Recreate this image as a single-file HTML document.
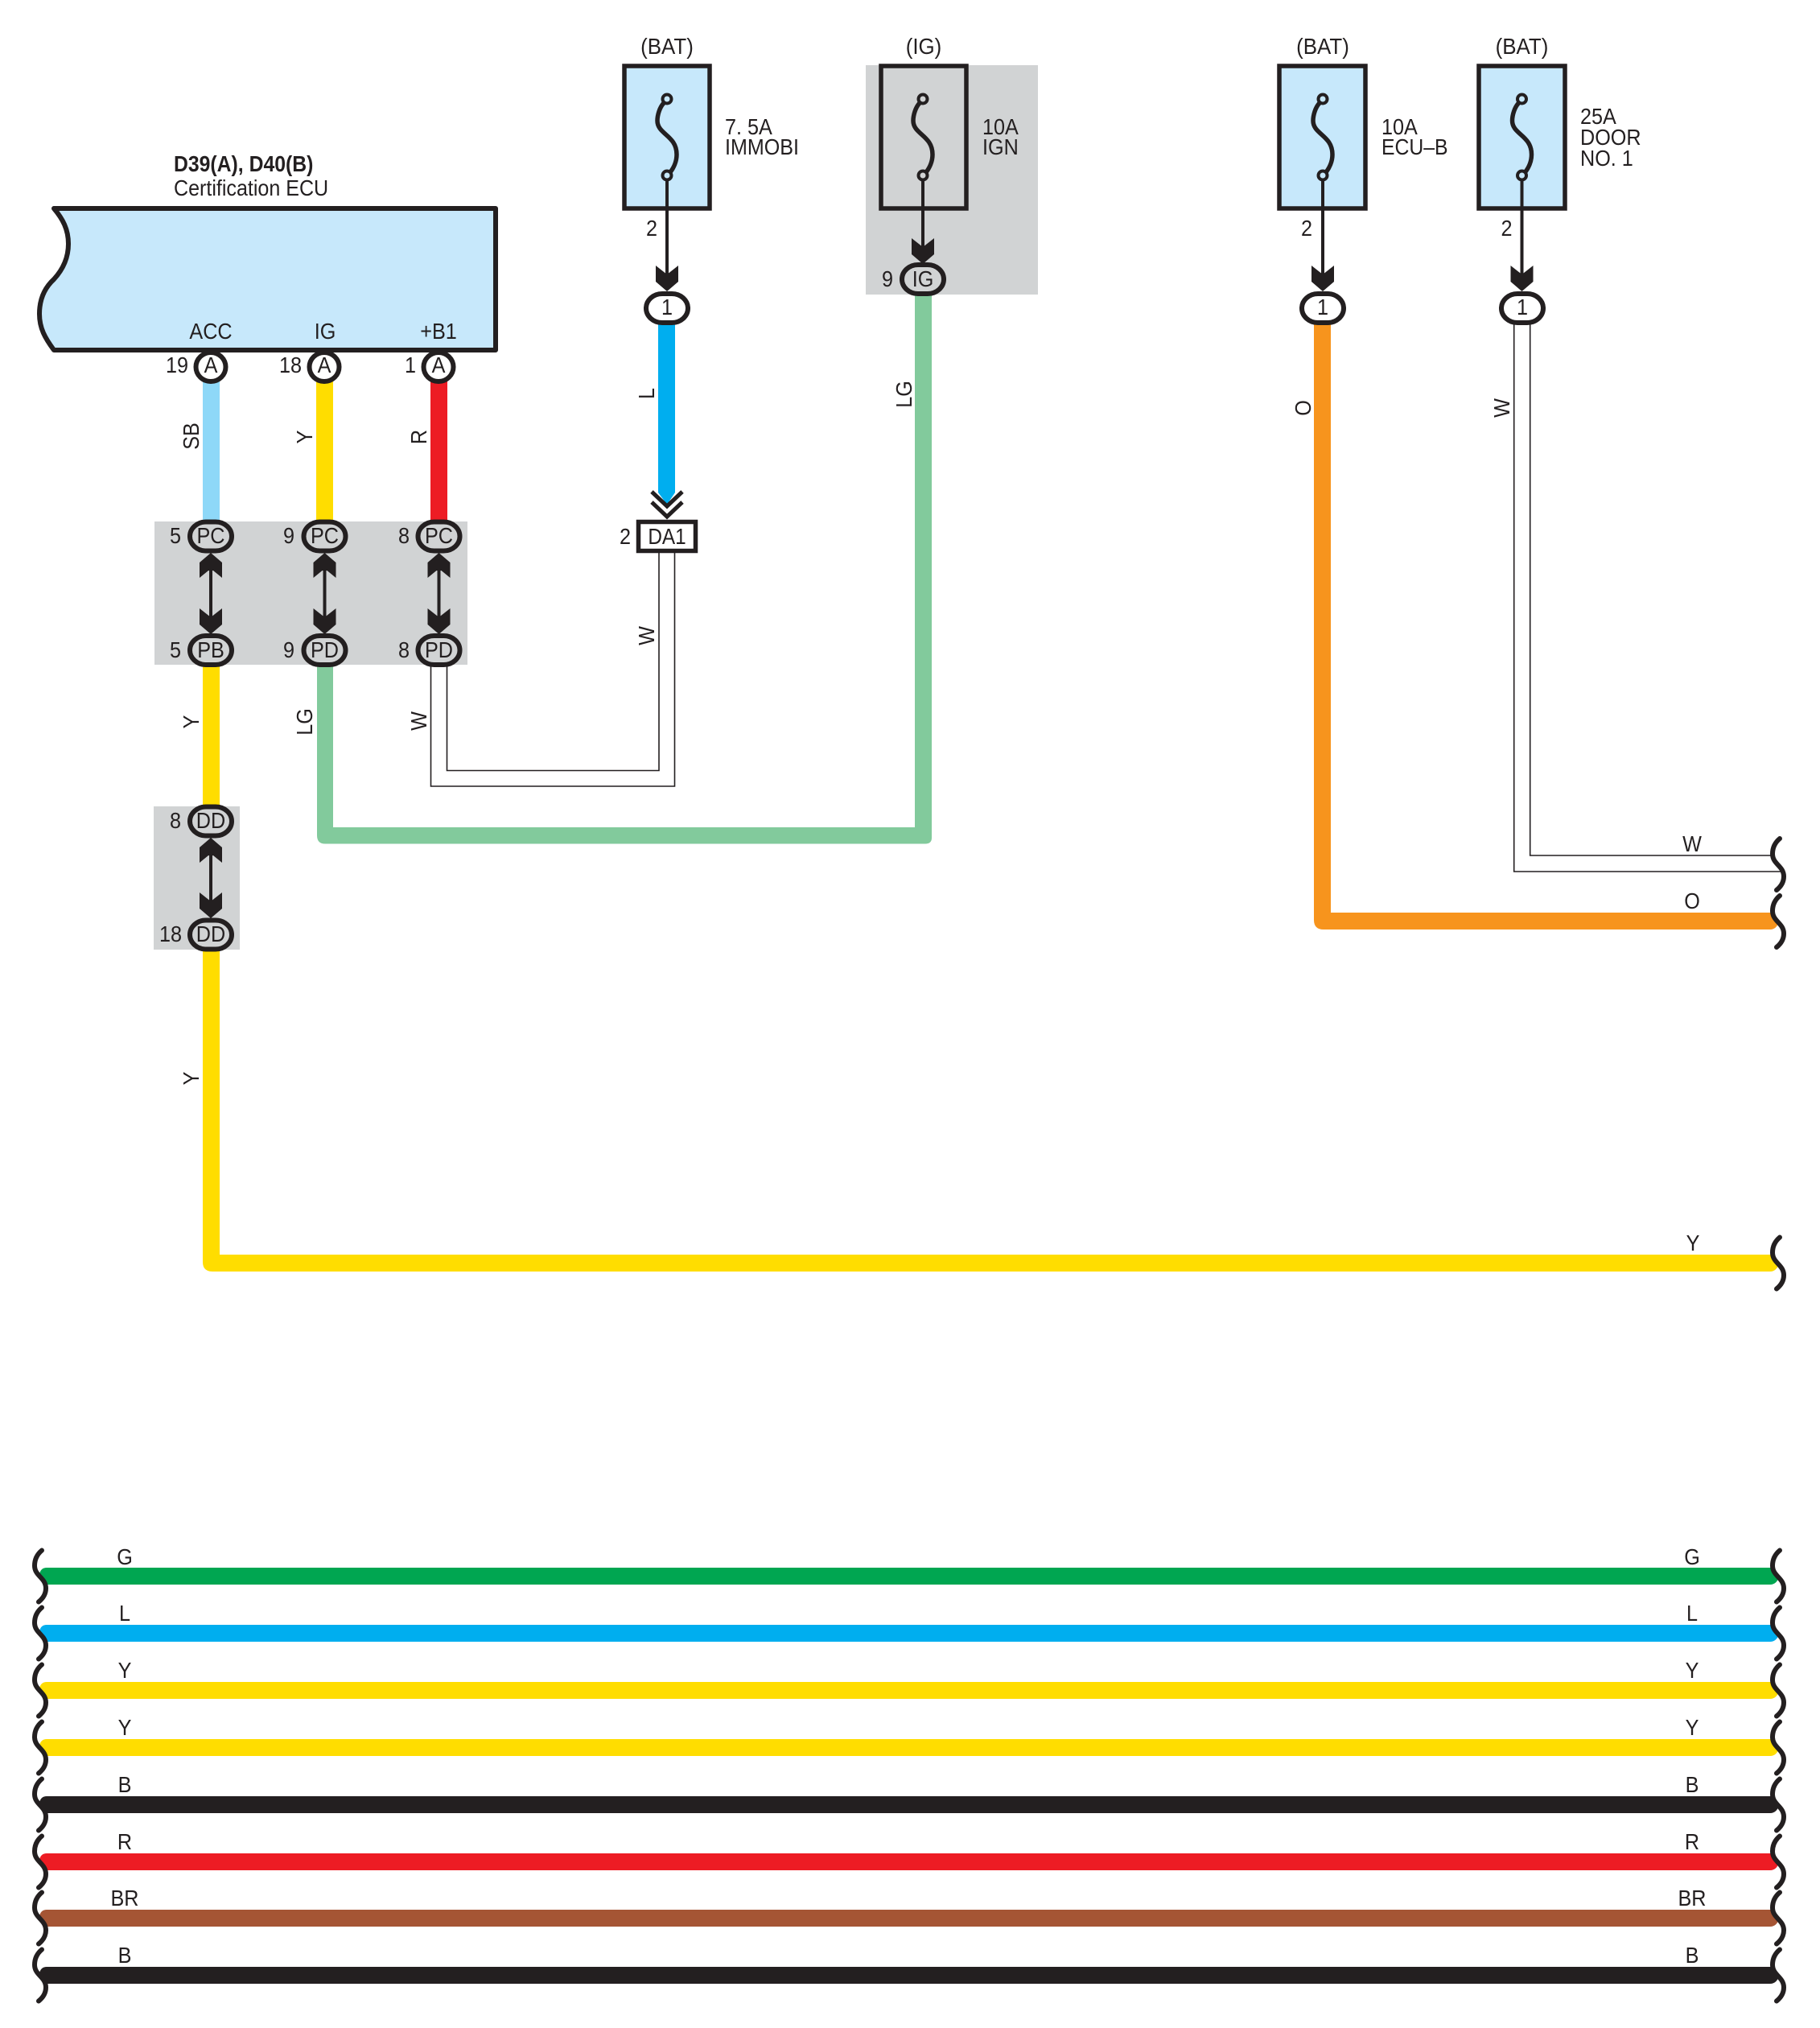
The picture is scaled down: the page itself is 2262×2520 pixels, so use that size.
<!DOCTYPE html>
<html><head><meta charset="utf-8"><style>
html,body{margin:0;padding:0;background:#fff}
svg{display:block}
text{font-family:"Liberation Sans",sans-serif;font-size:28px;fill:#231f20;text-anchor:middle}
.s{text-anchor:start}
.t{fill:none;stroke:#231f20;stroke-width:1.6}
.l{stroke:#231f20;stroke-width:4}
</style></head><body>
<svg width="2262" height="2520" viewBox="0 0 2262 2520" xmlns="http://www.w3.org/2000/svg">
<defs>
<path id="sq" d="M0 -32C-6 -27 -9 -20 -9 -13C-9 0 5 2 5 15C5 22 1 28 -4 32" fill="none" stroke="#231f20" stroke-width="6" stroke-linecap="round"/>
<path id="w" d="M58 -10.5H2204L2211 1Q2208 10.5 2200 10.5H57L49 -3Q51 -10.5 58 -10.5Z"/>
<rect id="o" x="-26" y="-18" width="52" height="36" rx="20" ry="18" stroke="#231f20" stroke-width="6"/>
<path id="ad" d="M0 0L-14 -12V-32L0 -21L14 -32V-12Z" fill="#231f20"/>
<path id="au" d="M0 0L-14 12V31L-3 22H3L14 31V12Z" fill="#231f20"/>
<g id="fz" fill="none" stroke="#231f20">
<path d="M-4 5C-9 10 -12 20 -12 27C-12 44 12 45 12 69C12 78 8 86 4 91" stroke-width="5.5"/>
<circle cx="0" cy="0" r="5.5" stroke-width="4"/>
<circle cx="0" cy="95" r="5.5" stroke-width="4"/>
</g>
</defs>

<!-- gray zones -->
<rect x="192" y="648" width="389" height="178" fill="#d1d3d4"/>
<rect x="191" y="1002" width="107" height="178" fill="#d1d3d4"/>
<rect x="1076" y="81" width="214" height="285" fill="#d1d3d4"/>

<!-- ECU -->
<path d="M67 259H616V435H67C56 420 49 408 49 390C49 372 55 358 67 347C78 335 85 320 85 303C85 285 78 272 67 259Z" fill="#c7e8fb" stroke="#231f20" stroke-width="6" stroke-linejoin="round"/>
<text class="s" font-weight="bold" transform="matrix(.885 0 0 1 216 213)">D39(A), D40(B)</text>
<text class="s" transform="matrix(.895 0 0 1 216 243)">Certification ECU</text>
<text transform="matrix(.9 0 0 1 262 421)">ACC</text>
<text transform="matrix(.9 0 0 1 404 421)">IG</text>
<text transform="matrix(.9 0 0 1 545 421)">+B1</text>

<!-- upper wires -->
<rect x="252" y="474" width="21" height="176" fill="#8ed8f8"/>
<rect x="393" y="474" width="21" height="176" fill="#ffdd00"/>
<rect x="535" y="474" width="21" height="176" fill="#ed1c24"/>
<ellipse cx="262" cy="456" rx="18.5" ry="18" fill="#fff" stroke="#231f20" stroke-width="6"/>
<ellipse cx="403" cy="456" rx="18.5" ry="18" fill="#fff" stroke="#231f20" stroke-width="6"/>
<ellipse cx="545" cy="456" rx="18.5" ry="18" fill="#fff" stroke="#231f20" stroke-width="6"/>
<text transform="matrix(.9 0 0 1 262 463)">A</text>
<text transform="matrix(.9 0 0 1 403 463)">A</text>
<text transform="matrix(.9 0 0 1 545 463)">A</text>
<text transform="matrix(.9 0 0 1 220 463)">19</text>
<text transform="matrix(.9 0 0 1 361 463)">18</text>
<text transform="matrix(.9 0 0 1 510 463)">1</text>
<text transform="matrix(0 -.9 1 0 247 542)">SB</text>
<text transform="matrix(0 -.9 1 0 388 543)">Y</text>
<text transform="matrix(0 -.9 1 0 530 543)">R</text>

<!-- lower wires from PB/PD -->
<rect x="252" y="825" width="21" height="178" fill="#ffdd00"/>
<path d="M252 1178H273V1559H2204L2211 1570Q2208 1580 2200 1580H264Q252 1580 252 1568Z" fill="#ffdd00"/>
<path d="M394 825H414V1028H1137V365H1158V1041Q1158 1048.500 1150 1048.500H404Q394 1048.500 394 1038Z" fill="#82ca9c"/>
<path class="t" d="M535.500 826V977H838.500V685"/>
<path class="t" d="M555.500 826V957.500H819V685"/>

<!-- PC/PB/PD connectors -->
<g fill="#d1d3d4">
<use href="#o" x="262" y="666.500"/><use href="#o" x="403.500" y="666.500"/><use href="#o" x="545.500" y="666.500"/>
<use href="#o" x="262" y="808"/><use href="#o" x="403.500" y="808"/><use href="#o" x="545.500" y="808"/>
<use href="#o" x="262" y="1020.500"/><use href="#o" x="262" y="1161.500"/>
</g>
<path class="l" d="M262 690V785M403.500 690V785M545.500 690V785M262 1044V1138"/>
<use href="#au" x="262" y="687"/><use href="#au" x="403.500" y="687"/><use href="#au" x="545.500" y="687"/>
<use href="#ad" x="262" y="788"/><use href="#ad" x="403.500" y="788"/><use href="#ad" x="545.500" y="788"/>
<use href="#au" x="262" y="1041"/><use href="#ad" x="262" y="1141"/>
<text transform="matrix(.9 0 0 1 262 675)">PC</text>
<text transform="matrix(.9 0 0 1 403.500 675)">PC</text>
<text transform="matrix(.9 0 0 1 545.500 675)">PC</text>
<text transform="matrix(.9 0 0 1 262 817)">PB</text>
<text transform="matrix(.9 0 0 1 403.500 817)">PD</text>
<text transform="matrix(.9 0 0 1 545.500 817)">PD</text>
<text transform="matrix(.9 0 0 1 262 1029)">DD</text>
<text transform="matrix(.9 0 0 1 262 1170)">DD</text>
<text transform="matrix(.9 0 0 1 218 675)">5</text>
<text transform="matrix(.9 0 0 1 359 675)">9</text>
<text transform="matrix(.9 0 0 1 502 675)">8</text>
<text transform="matrix(.9 0 0 1 218 817)">5</text>
<text transform="matrix(.9 0 0 1 359 817)">9</text>
<text transform="matrix(.9 0 0 1 502 817)">8</text>
<text transform="matrix(.9 0 0 1 218 1029)">8</text>
<text transform="matrix(.9 0 0 1 212 1170)">18</text>
<text transform="matrix(0 -.9 1 0 247 897)">Y</text>
<text transform="matrix(0 -.9 1 0 388 897)">LG</text>
<text transform="matrix(0 -.9 1 0 530 896)">W</text>
<text transform="matrix(0 -.9 1 0 813 790)">W</text>
<text transform="matrix(0 -.9 1 0 247 1340)">Y</text>

<!-- fuse 1 : IMMOBI -->
<rect x="776" y="82" width="106" height="177" fill="#c7e8fb" stroke="#231f20" stroke-width="5.5"/>
<use href="#fz" x="829" y="123"/>
<path class="l" d="M829 224V350"/>
<use href="#ad" x="829" y="362"/>
<path d="M818 403H839V612L829 627L818 612Z" fill="#00aeef"/>
<use href="#o" x="829" y="383" fill="#fff"/>
<path d="M810 611L829 629L848 611M810 624L829 642L848 624" fill="none" stroke="#231f20" stroke-width="5"/>
<rect x="793.500" y="648.500" width="71" height="36" fill="#fff" stroke="#231f20" stroke-width="5.500"/>
<text transform="matrix(.87 0 0 1 829 676)">DA1</text>
<text transform="matrix(.9 0 0 1 777 676)">2</text>
<text transform="matrix(.9 0 0 1 829 391)">1</text>
<text transform="matrix(.925 0 0 1 829 67)">(BAT)</text>
<text class="s" transform="matrix(.9 0 0 1 901 167)">7. 5A</text>
<text class="s" transform="matrix(.896 0 0 1 901 192)">IMMOBI</text>
<text transform="matrix(.9 0 0 1 810 293)">2</text>
<text transform="matrix(0 -.9 1 0 813 489)">L</text>

<!-- fuse 2 : IGN -->
<rect x="1095" y="82" width="106" height="177" fill="#d1d3d4" stroke="#231f20" stroke-width="5.5"/>
<use href="#fz" x="1147" y="123"/>
<path class="l" d="M1147 224V316"/>
<use href="#ad" x="1147" y="328"/>
<use href="#o" x="1147" y="347" fill="#d1d3d4"/>
<text transform="matrix(.9 0 0 1 1147 356)">IG</text>
<text transform="matrix(.9 0 0 1 1103 356)">9</text>
<text transform="matrix(.925 0 0 1 1148 67)">(IG)</text>
<text class="s" transform="matrix(.9 0 0 1 1221 167)">10A</text>
<text class="s" transform="matrix(.9 0 0 1 1221 192)">IGN</text>
<text transform="matrix(0 -.9 1 0 1133 490)">LG</text>

<!-- fuse 3 : ECU-B -->
<path d="M1633 403H1654V1134H2204L2211 1145Q2208 1155 2200 1155H1645Q1633 1155 1633 1143Z" fill="#f7941d"/>
<rect x="1590" y="82" width="107" height="177" fill="#c7e8fb" stroke="#231f20" stroke-width="5.5"/>
<use href="#fz" x="1644" y="123"/>
<path class="l" d="M1644 224V350"/>
<use href="#ad" x="1644" y="362"/>
<use href="#o" x="1644" y="383" fill="#fff"/>
<text transform="matrix(.9 0 0 1 1644 391)">1</text>
<text transform="matrix(.925 0 0 1 1644 67)">(BAT)</text>
<text class="s" transform="matrix(.9 0 0 1 1717 167)">10A</text>
<text class="s" transform="matrix(.885 0 0 1 1717 192)">ECU–B</text>
<text transform="matrix(.9 0 0 1 1624 293)">2</text>
<text transform="matrix(0 -.9 1 0 1629 507)">O</text>

<!-- fuse 4 : DOOR -->
<path class="t" d="M1881.700 403V1083H2213"/>
<path class="t" d="M1901.700 403V1063H2204"/>
<rect x="1838" y="82" width="107" height="177" fill="#c7e8fb" stroke="#231f20" stroke-width="5.5"/>
<use href="#fz" x="1891.500" y="123"/>
<path class="l" d="M1891.500 224V350"/>
<use href="#ad" x="1891.500" y="362"/>
<use href="#o" x="1892" y="383" fill="#fff"/>
<text transform="matrix(.9 0 0 1 1892 391)">1</text>
<text transform="matrix(.925 0 0 1 1891.500 67)">(BAT)</text>
<text class="s" transform="matrix(.9 0 0 1 1964 154)">25A</text>
<text class="s" transform="matrix(.9 0 0 1 1964 180)">DOOR</text>
<text class="s" transform="matrix(.9 0 0 1 1964 206)">NO. 1</text>
<text transform="matrix(.9 0 0 1 1872.500 293)">2</text>
<text transform="matrix(0 -.9 1 0 1876 507)">W</text>

<!-- right ends upper -->
<use href="#sq" x="2212" y="1074"/>
<use href="#sq" x="2212" y="1145"/>
<use href="#sq" x="2212" y="1569.500"/>
<text transform="matrix(.9 0 0 1 2103 1058)">W</text>
<text transform="matrix(.9 0 0 1 2103 1129)">O</text>
<text transform="matrix(.9 0 0 1 2104 1554)">Y</text>

<!-- bottom bus -->
<use href="#w" y="1958.500" fill="#00a651"/>
<use href="#w" y="2029.500" fill="#00aeef"/>
<use href="#w" y="2100.500" fill="#ffdd00"/>
<use href="#w" y="2171.500" fill="#ffdd00"/>
<use href="#w" y="2242.500" fill="#231f20"/>
<use href="#w" y="2313.500" fill="#ed1c24"/>
<use href="#w" y="2383.500" fill="#a55534"/>
<use href="#w" y="2454.500" fill="#231f20"/>
<use href="#sq" x="52" y="1958.500"/><use href="#sq" x="2212" y="1958.500"/>
<use href="#sq" x="52" y="2029.500"/><use href="#sq" x="2212" y="2029.500"/>
<use href="#sq" x="52" y="2100.500"/><use href="#sq" x="2212" y="2100.500"/>
<use href="#sq" x="52" y="2171.500"/><use href="#sq" x="2212" y="2171.500"/>
<use href="#sq" x="52" y="2242.500"/><use href="#sq" x="2212" y="2242.500"/>
<use href="#sq" x="52" y="2313.500"/><use href="#sq" x="2212" y="2313.500"/>
<use href="#sq" x="52" y="2383.500"/><use href="#sq" x="2212" y="2383.500"/>
<use href="#sq" x="52" y="2454.500"/><use href="#sq" x="2212" y="2454.500"/>
<text transform="matrix(.9 0 0 1 155 1944)">G</text><text transform="matrix(.9 0 0 1 2103 1944)">G</text>
<text transform="matrix(.9 0 0 1 155 2014)">L</text><text transform="matrix(.9 0 0 1 2103 2014)">L</text>
<text transform="matrix(.9 0 0 1 155 2085)">Y</text><text transform="matrix(.9 0 0 1 2103 2085)">Y</text>
<text transform="matrix(.9 0 0 1 155 2156)">Y</text><text transform="matrix(.9 0 0 1 2103 2156)">Y</text>
<text transform="matrix(.9 0 0 1 155 2227)">B</text><text transform="matrix(.9 0 0 1 2103 2227)">B</text>
<text transform="matrix(.9 0 0 1 155 2298)">R</text><text transform="matrix(.9 0 0 1 2103 2298)">R</text>
<text transform="matrix(.9 0 0 1 155 2368)">BR</text><text transform="matrix(.9 0 0 1 2103 2368)">BR</text>
<text transform="matrix(.9 0 0 1 155 2439)">B</text><text transform="matrix(.9 0 0 1 2103 2439)">B</text>
</svg>
</body></html>
